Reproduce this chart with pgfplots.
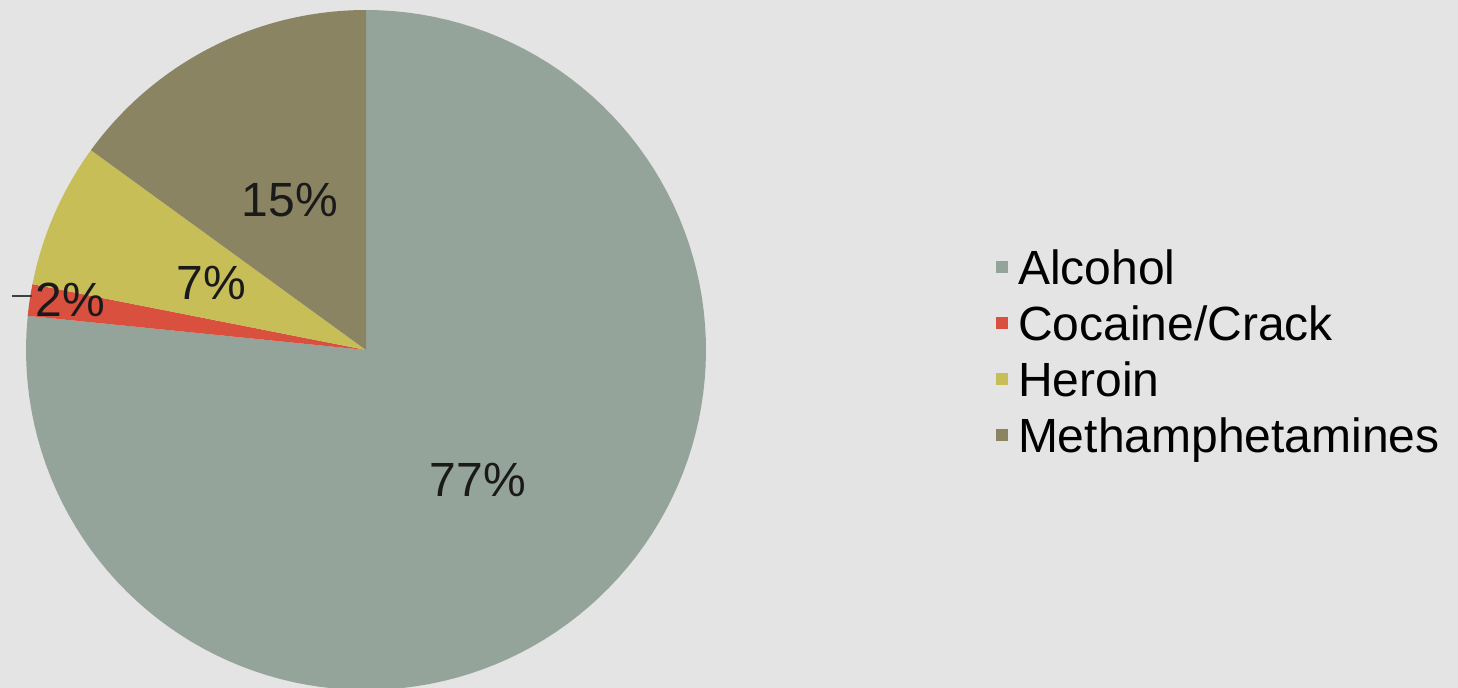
\documentclass[border=0pt]{standalone}
\usepackage{pgfplots}
\pgfplotsset{compat=1.18}
\usepackage{fontspec}
\setmainfont{Liberation Sans}
\definecolor{bg}{HTML}{E4E4E4}
\definecolor{alc}{HTML}{95A49B}
\definecolor{coc}{HTML}{D9503F}
\definecolor{her}{HTML}{C8BE57}
\definecolor{meth}{HTML}{8B8462}
\definecolor{txt}{HTML}{1A1A1A}
% shares in percent
\def\vAlc{76.6}
\def\vCoc{1.5}
\def\vHer{6.9}
\def\vMeth{15.0}
\begin{document}
\begin{tikzpicture}
\pgfmathsetmacro{\aA}{90}
\pgfmathsetmacro{\aB}{\aA-3.6*\vAlc}
\pgfmathsetmacro{\aC}{\aB-3.6*\vCoc}
\pgfmathsetmacro{\aD}{\aC-3.6*\vHer}
\pgfmathsetmacro{\aE}{\aD-3.6*\vMeth}
\fill[bg] (0,0) rectangle (729bp,344bp);
\begin{axis}[
  at={(0,0)}, anchor=south west,
  width=729bp, height=344bp, scale only axis,
  xmin=0, xmax=1458, ymin=0, ymax=688,
  axis lines=none, ticks=none,
  legend cell align=left,
  legend image code/.code={\fill[#1,draw=none] (0bp,0bp) rectangle (6bp,6bp);},
  legend style={at={(axis cs:996,437)}, anchor=north west, draw=none, fill=none,
    inner sep=0pt, outer sep=0pt, row sep=6bp, column sep=5bp,
    font=\fontsize{24bp}{28bp}\selectfont,
    nodes={inner sep=0pt, text height=17bp, text depth=5bp, text=black}},
]
\addplot[fill=alc, draw=none, domain=\aB:\aA, samples=120, variable=\t]
  ({366+340*cos(\t)},{338+340*sin(\t)}) -- (axis cs:366,338) -- cycle;
\addlegendentry{Alcohol}
\addplot[fill=coc, draw=none, domain=\aC:\aB, samples=10, variable=\t]
  ({366+340*cos(\t)},{338+340*sin(\t)}) -- (axis cs:366,338) -- cycle;
\addlegendentry{Cocaine/Crack}
\addplot[fill=her, draw=none, domain=\aD:\aC, samples=30, variable=\t]
  ({366+340*cos(\t)},{338+340*sin(\t)}) -- (axis cs:366,338) -- cycle;
\addlegendentry{Heroin}
\addplot[fill=meth, draw=none, domain=\aE:\aD, samples=50, variable=\t]
  ({366+340*cos(\t)},{338+340*sin(\t)}) -- (axis cs:366,338) -- cycle;
\addlegendentry{Methamphetamines}
\addplot[forget plot, draw=black!75, line width=1.1bp] coordinates {(12,392) (32,392)};
\node[text=txt, font=\fontsize{24bp}{28bp}\selectfont] at (axis cs:290,488) {15\%};
\node[text=txt, font=\fontsize{24bp}{28bp}\selectfont] at (axis cs:211,405) {7\%};
\node[text=txt, font=\fontsize{24bp}{28bp}\selectfont] at (axis cs:70,388) {2\%};
\node[text=txt, font=\fontsize{24bp}{28bp}\selectfont] at (axis cs:478,208) {77\%};
\end{axis}
\end{tikzpicture}
\end{document}
